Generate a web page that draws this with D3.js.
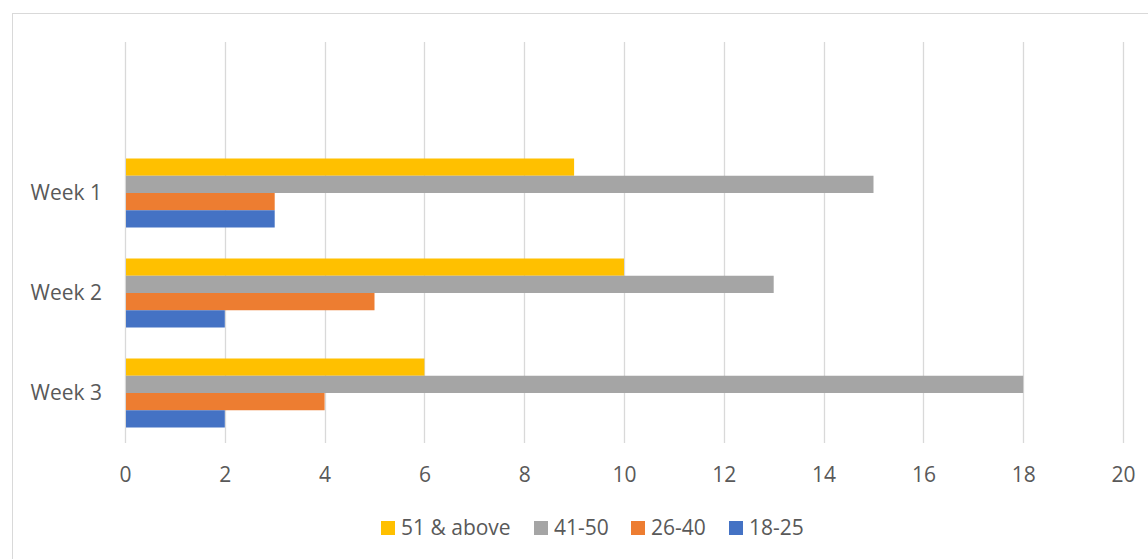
<!DOCTYPE html>
<html><head><meta charset="utf-8">
<script src="https://cdn.jsdelivr.net/npm/d3@7"></script>
<style>html,body{margin:0;padding:0;background:#fff;}svg{display:block;}</style>
</head><body>
<svg id="c" width="1148" height="559"></svg>
<script>
const categories = ["", "Week 1", "Week 2", "Week 3"];
const seriesNames = ["51 & above", "41-50", "26-40", "18-25"];
const seriesColors = ["#FFC000", "#A5A5A5", "#ED7D31", "#4472C4"];
const s51above = [null, 9, 10, 6];
const s41to50 = [null, 15, 13, 18];
const s26to40 = [null, 3, 5, 4];
const s18to25 = [null, 3, 2, 2];
const xTicks = [0, 2, 4, 6, 8, 10, 12, 14, 16, 18, 20];

const seriesValues = [s51above, s41to50, s26to40, s18to25];
const font = "'Open Sans', sans-serif";
const fontSize = "21px";
const textColor = "#595959";
const svg = d3.select("#c");

// chart border
svg.append("rect").attr("x", 12.5).attr("y", 13.5).attr("width", 1200).attr("height", 600)
  .attr("fill", "#fff").attr("stroke", "#d9d9d9").attr("stroke-width", 1);

const x = d3.scaleLinear().domain([0, 20]).range([125, 1123]);
const y = d3.scaleBand().domain(categories).range([43, 443]).paddingInner(0.31).paddingOuter(0.155);
const ySub = d3.scaleBand().domain(seriesNames).range([0, y.bandwidth()]);

// gridlines
svg.append("g").selectAll("line").data(xTicks).join("line")
  .attr("x1", d => Math.round(x(d)) + 0.5).attr("x2", d => Math.round(x(d)) + 0.5)
  .attr("y1", 42).attr("y2", 443)
  .attr("stroke", "#d9d9d9").attr("stroke-width", 1.3);

// bars
const rows = [];
categories.forEach((c, i) => {
  seriesNames.forEach((s, j) => {
    const v = seriesValues[j][i];
    if (v != null) rows.push({c, s, v, color: seriesColors[j]});
  });
});
svg.append("g").selectAll("rect").data(rows).join("rect")
  .attr("x", x(0) + 1)
  .attr("y", d => y(d.c) + ySub(d.s))
  .attr("width", d => x(d.v) - x(0) - 1)
  .attr("height", ySub.bandwidth())
  .attr("fill", d => d.color);

// x axis labels
const xAxis = d3.axisBottom(x).tickValues(xTicks).tickSize(0).tickPadding(0);
const gx = svg.append("g").attr("transform", "translate(0,475)").call(xAxis);
gx.select(".domain").remove();
gx.selectAll("text").attr("fill", textColor).style("font-family", font).style("font-size", fontSize)
  .attr("dy", "0.35em").attr("y", 0);

// y axis labels
const yAxis = d3.axisLeft(y).tickSize(0).tickPadding(0).tickFormat(d => d);
const gy = svg.append("g").attr("transform", "translate(102,0)").call(yAxis);
gy.select(".domain").remove();
gy.selectAll("text").attr("fill", textColor).style("font-family", font).style("font-size", fontSize);

// legend
const legendX = [381, 534, 631, 729];
const lg = svg.append("g");
seriesNames.forEach((s, j) => {
  const g = lg.append("g").attr("transform", `translate(${legendX[j]},528)`);
  g.append("rect").attr("x", 0).attr("y", -7).attr("width", 14).attr("height", 14).attr("fill", seriesColors[j]);
  g.append("text").attr("x", 20).attr("y", 0).attr("dy", "0.35em").text(s)
    .attr("fill", textColor).style("font-family", font).style("font-size", fontSize);
});
</script>
</body></html>
